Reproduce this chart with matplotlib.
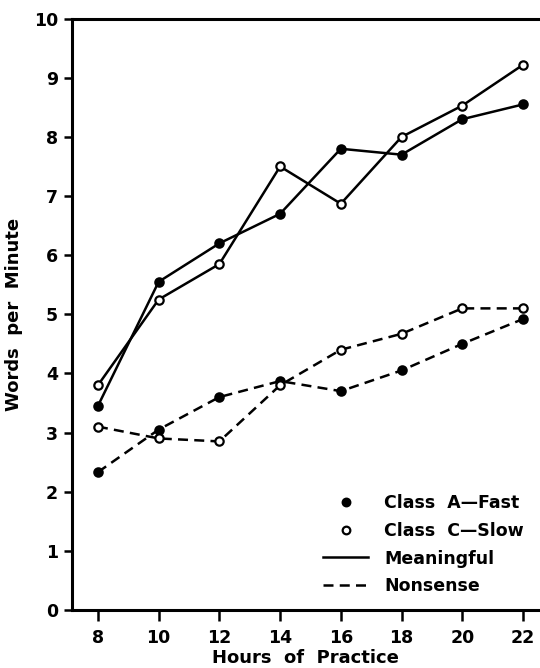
import numpy as np
from matplotlib import pyplot as plt
from matplotlib.lines import Line2D

# hours of practice
hours = [8, 10, 12, 14, 16, 18, 20, 22]

# words per minute
meaningful_a = [3.45, 5.55, 6.2, 6.7, 7.8, 7.7, 8.3, 8.55]
meaningful_c = [3.8, 5.25, 5.85, 7.5, 6.87, 8.0, 8.53, 9.22]
nonsense_a = [2.33, 3.05, 3.6, 3.87, 3.7, 4.05, 4.5, 4.92]
nonsense_c = [3.1, 2.9, 2.85, 3.8, 4.4, 4.67, 5.1, 5.1]

y_ticks = [0, 1, 2, 3, 4, 5, 6, 7, 8, 9, 10]


def main():
    plt.rcParams['font.family'] = ['DejaVu Sans']
    plt.rcParams['font.weight'] = 'bold'

    fig = plt.figure(figsize=(5.4, 6.68), dpi=100)
    ax = fig.add_axes([0.133, 0.087, 0.867, 0.885])

    mk = dict(marker='o', markersize=6, markeredgewidth=1.6,
              color='black', linewidth=1.8)
    dash = (0, (4, 2.5))

    ax.plot(hours, meaningful_a, markerfacecolor='black', **mk)
    ax.plot(hours, meaningful_c, markerfacecolor='white', **mk)
    ax.plot(hours, nonsense_a, markerfacecolor='black', linestyle=dash, **mk)
    ax.plot(hours, nonsense_c, markerfacecolor='white', linestyle=dash, **mk)

    ax.set_xlim(7.14, 22.56)
    ax.set_ylim(0, 10)
    ax.set_xticks(hours)
    ax.set_yticks(y_ticks)
    ax.tick_params(axis='both', direction='out', width=1.8, labelsize=12.5)
    ax.tick_params(axis='x', length=8, pad=6)
    ax.tick_params(axis='y', length=6, pad=4)

    for s in ['left', 'top', 'bottom']:
        ax.spines[s].set_linewidth(2.2)
    ax.spines['right'].set_visible(False)

    ax.set_xlabel("Hours  of  Practice", fontsize=13, fontweight='bold', labelpad=1)
    ax.set_ylabel("Words  per  Minute", fontsize=13, fontweight='bold', labelpad=8)

    handles = [
        Line2D([], [], marker='o', linestyle='none', color='black',
               markerfacecolor='black', markersize=5.5, markeredgewidth=1.6),
        Line2D([], [], marker='o', linestyle='none', color='black',
               markerfacecolor='white', markersize=5.5, markeredgewidth=1.6),
        Line2D([], [], color='black', linewidth=1.8),
        Line2D([], [], color='black', linewidth=1.8, linestyle=dash),
    ]
    labels = ["Class  A\u2014Fast", "Class  C\u2014Slow", "Meaningful", "Nonsense"]
    ax.legend(handles, labels, loc='lower right', frameon=False,
              fontsize=12.5, handlelength=2.6, handletextpad=0.9,
              labelspacing=0.55, borderpad=0, borderaxespad=0,
              bbox_to_anchor=(0.965, 0.025))

    plt.savefig("out.png", dpi=100)
    plt.close(fig)


if __name__ == "__main__":
    main()
